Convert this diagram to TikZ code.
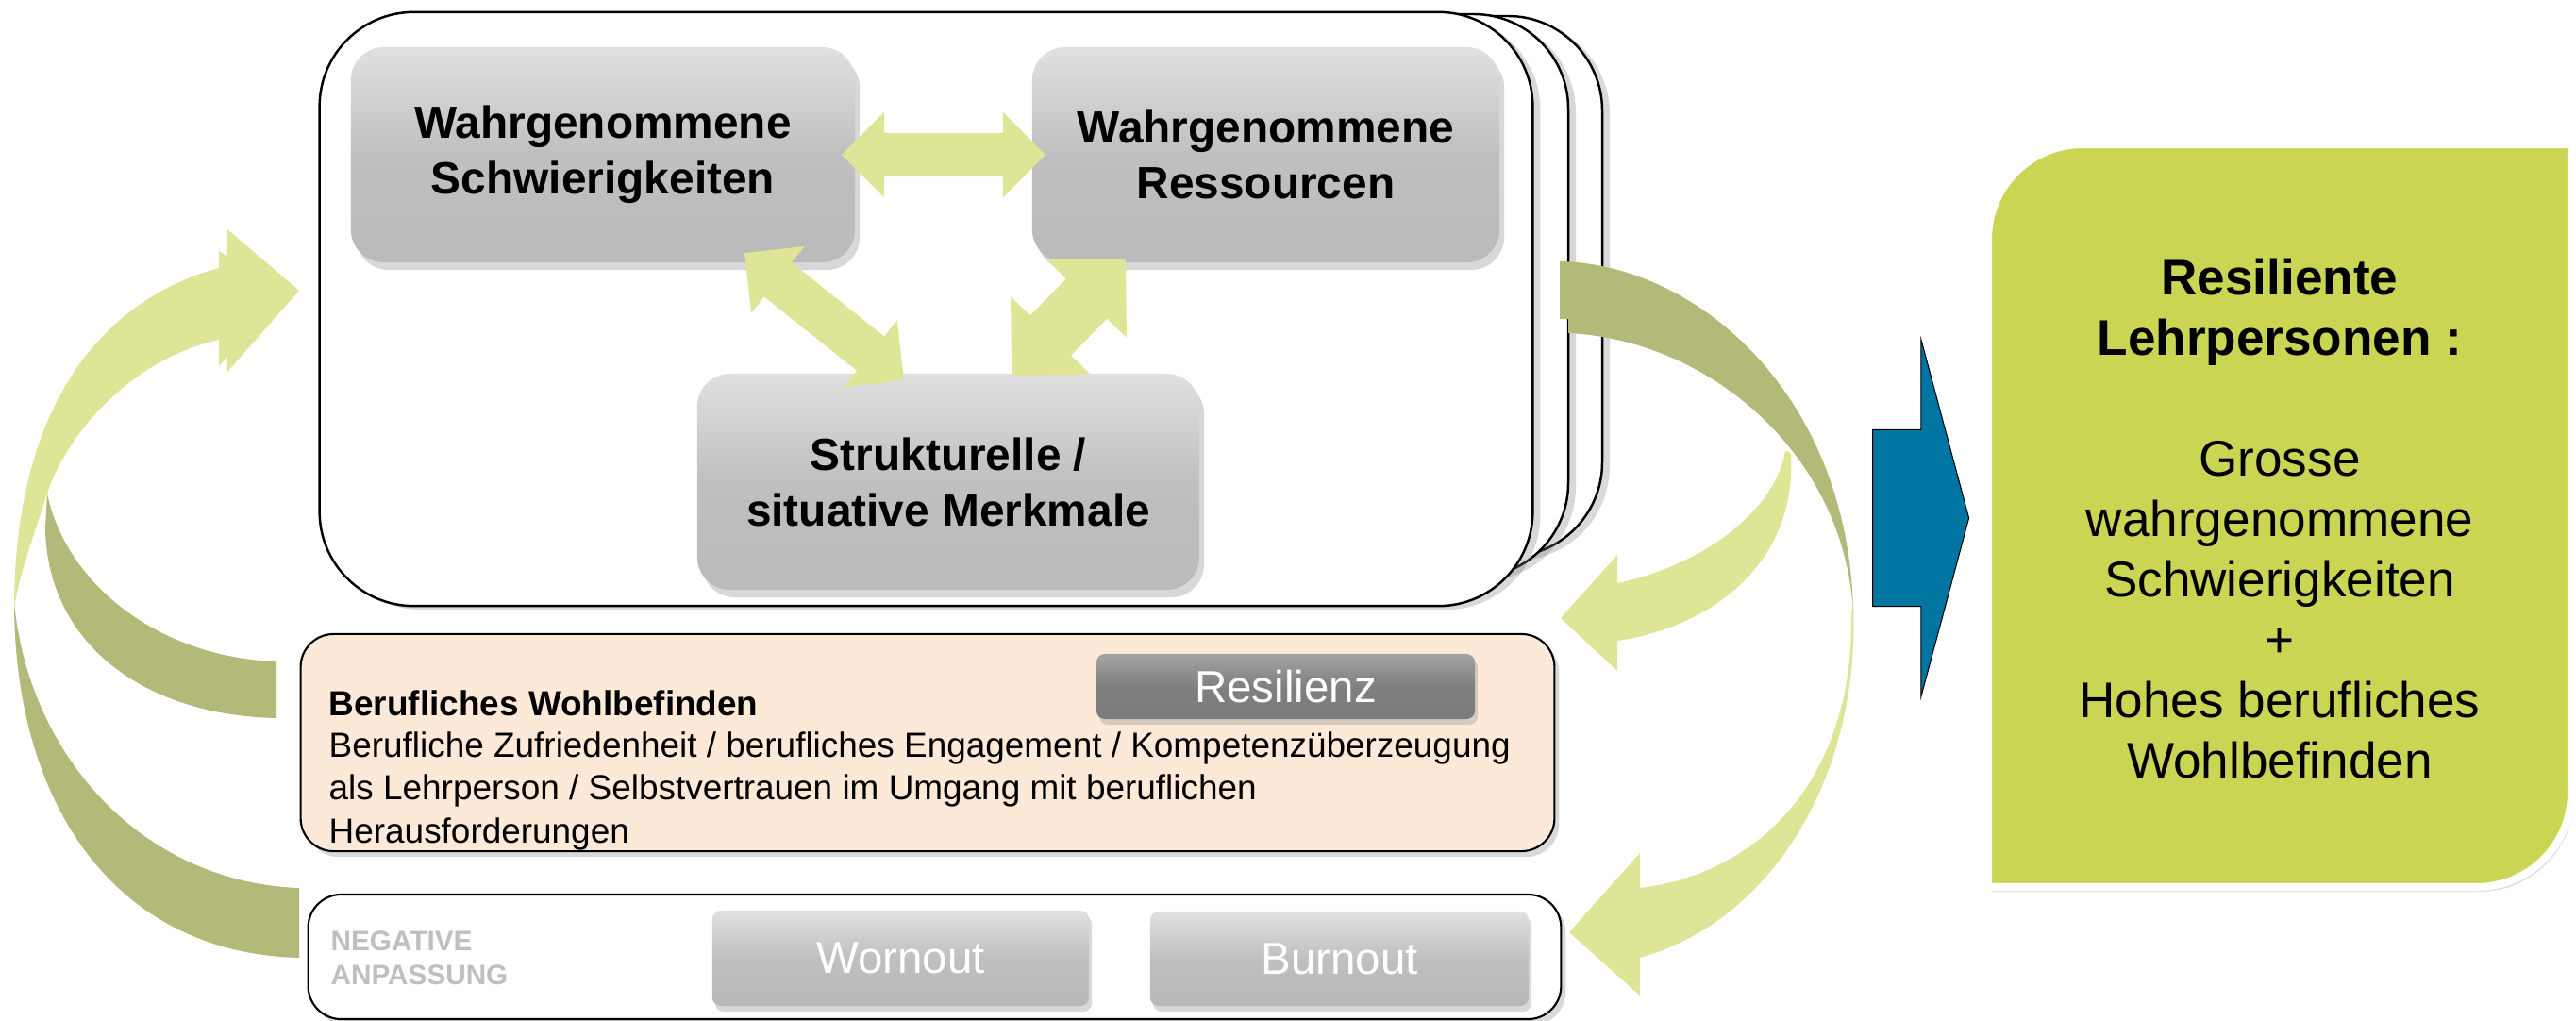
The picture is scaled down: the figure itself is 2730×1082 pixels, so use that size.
\documentclass[tikz,border=0pt]{standalone}
\usepackage{fontspec}
\setmainfont{Liberation Sans}
\usetikzlibrary{shapes.arrows,shadows,calc}

\definecolor{ribbonlight}{HTML}{DEE597}
\definecolor{ribbondark}{HTML}{B3B978}
\definecolor{resgreen}{HTML}{CBD554}
\definecolor{flowblue}{HTML}{0075A2}
\definecolor{wellpeach}{HTML}{FCE9D8}

\begin{document}
\begin{tikzpicture}[
		x=0.01cm, y=-0.01cm,
		layer/.style={draw=black, line width=0.7pt, fill=white, rounded corners=10mm,
			drop shadow={shadow xshift=0.8mm, shadow yshift=-0.4mm, opacity=0.3}},
		factor/.style={rectangle, rounded corners=3.5mm, top color=black!12, bottom color=black!27, middle color=black!25,
			drop shadow={shadow xshift=0.5mm, shadow yshift=-0.8mm, opacity=0.3},
			align=center, font=\bfseries\fontsize{13.6}{16.8}\selectfont, minimum height=22.8mm},
		panel/.style={rectangle, draw=black, line width=0.6pt, rounded corners=3.5mm,
			drop shadow={shadow xshift=0.5mm, shadow yshift=-0.6mm, opacity=0.3}},
		tagbtn/.style={rectangle, rounded corners=0.9mm, text=white, font=\fontsize{13.5}{16}\selectfont,
			drop shadow={shadow xshift=0.3mm, shadow yshift=-0.6mm, opacity=0.3}},
		dblarrow/.style={double arrow, fill=ribbonlight, inner xsep=0pt, inner ysep=2.25mm, double arrow head extend=2.2mm}
	]
		\useasboundingbox (0,0) rectangle (2730,1082);

		% stacked frames
		\draw[layer] (380,17) rectangle (1698,590);
		\draw[layer] (360,15) rectangle (1662,612);
		\node[layer, minimum width=128.5mm, minimum height=62.9mm] (stack) at (981.5,327.5) {};

		% perceived factors
		\node[factor, minimum width=53.4mm] (schw) at (639,164) {Wahrgenommene\\Schwierigkeiten};
		\node[factor, minimum width=49.5mm] (ress) at (1341.5,164) {Wahrgenommene\\Ressourcen};
		\node[factor, minimum width=53.2mm, minimum height=22.9mm] (strukt) at (1005,510.5) {Strukturelle /\\situative Merkmale};

		\node[dblarrow, minimum height=21.6mm] (linkSR) at ($(schw.east)!0.5!(ress.west)$) {};
		\node[dblarrow, minimum height=21.6mm, rotate=-38.6] (linkSK) at (873.5,335.5) {};
		\node[dblarrow, minimum height=17.3mm, inner ysep=2.95mm, double arrow head extend=2.9mm, rotate=45.7] (linkRK) at (1132.5,336) {};

		% wellbeing and negative adaptation
		\node[panel, fill=wellpeach, minimum width=132.8mm, minimum height=23mm] (wellbeing) at (983,787) {};
		\node[tagbtn, top color=black!36, bottom color=black!52, middle color=black!50, minimum width=40.1mm, minimum height=6.9mm] (resil) at (1362.5,727.5) {Resilienz};
		\node[anchor=base west, inner sep=0pt, font=\bfseries\fontsize{10.5}{12.9}\selectfont] (welltitle) at (348,758) {Berufliches Wohlbefinden};
		\node[anchor=base west, inner sep=0pt, align=left, font=\fontsize{10.5}{12.9}\selectfont] (welltext) at (348,893) {Berufliche Zufriedenheit / berufliches Engagement / Kompetenzüberzeugung\\als Lehrperson / Selbstvertrauen im Umgang mit beruflichen\\Herausforderungen};

		\node[panel, fill=white, minimum width=132.7mm, minimum height=13.2mm] (negative) at (990.5,1014) {};
		\node[anchor=base west, inner sep=0pt, align=left, text=black!25, font=\bfseries\fontsize{8.45}{10}\selectfont] (negtext) at (350,1043) {NEGATIVE\\ANPASSUNG};
		\node[tagbtn, top color=black!12, bottom color=black!28, middle color=black!25, minimum width=39.9mm, minimum height=10.1mm] (wornout) at (954.5,1015.5) {Wornout};
		\node[tagbtn, top color=black!12, bottom color=black!28, middle color=black!25, minimum width=40.1mm, minimum height=10mm] (burnout) at (1419.5,1016) {Burnout};

		% ribbons on the left
		\fill[ribbonlight] (15,645) .. controls (15,440) and (100,320) .. (232,284) -- (241,284) -- (241,243) -- (317,308) -- (241,394) -- (241,360) -- (232,360) .. controls (140,380) and (70,460) .. (50,523) .. controls (35,570) and (20,610) .. (15,645) -- cycle;
		\fill[ribbonlight] (232,284) -- (232,266) -- (300,310) -- (232,388) -- (232,360) -- cycle;
		\fill[ribbondark] (50,523) .. controls (70,620) and (170,697) .. (293,701) -- (293,761) .. controls (150,758) and (50,680) .. (48,560) -- cycle;
		\fill[ribbondark] (15,638) .. controls (30,800) and (150,935) .. (317,941) -- (317,1015) .. controls (120,1010) and (15,850) .. (15,638) -- cycle;

		% ribbons on the right
		\fill[ribbonlight] (1892,478) .. controls (1880,545) and (1800,600) .. (1714,618) -- (1714,588) -- (1654,655) -- (1714,711) -- (1714,679) .. controls (1810,665) and (1905,600) .. (1898,480) -- cycle;
		\fill[ribbonlight] (1964,640) .. controls (1972,820) and (1880,975) .. (1738,1015) -- (1738,1055) -- (1663,988) -- (1738,904) -- (1738,941) .. controls (1870,925) and (1965,820) .. (1962,650) -- cycle;
		\fill[ribbondark] (1653,277) .. controls (1800,280) and (1960,420) .. (1964,650) .. controls (1955,480) and (1810,360) .. (1662,353) -- (1662,338) -- (1653,338) -- cycle;

		% result
		\node[single arrow, fill=flowblue, draw=black, line width=0.3pt, inner xsep=0pt, inner ysep=9.3mm, minimum height=10.2mm,
			single arrow head extend=9.55mm, single arrow tip angle=150, anchor=tail] (flow) at (1984,549) {};
		\path[fill=resgreen, draw=white, line width=2.3pt, drop shadow={shadow xshift=0.3mm, shadow yshift=-0.5mm, opacity=0.25}]
			(2107,940) -- (2107,253) .. controls (2107,198) and (2152,153) .. (2207,153) -- (2725,153) -- (2725,840) .. controls (2725,895) and (2680,940) .. (2625,940) -- cycle;
		\node[align=center, font=\fontsize{15.1}{18.2}\selectfont] (result) at (2416,550) {\textbf{Resiliente}\\\textbf{Lehrpersonen :}\\[18.2pt]Grosse\\wahrgenommene\\Schwierigkeiten\\+\\Hohes berufliches\\Wohlbefinden};
	\end{tikzpicture}
\end{document}
